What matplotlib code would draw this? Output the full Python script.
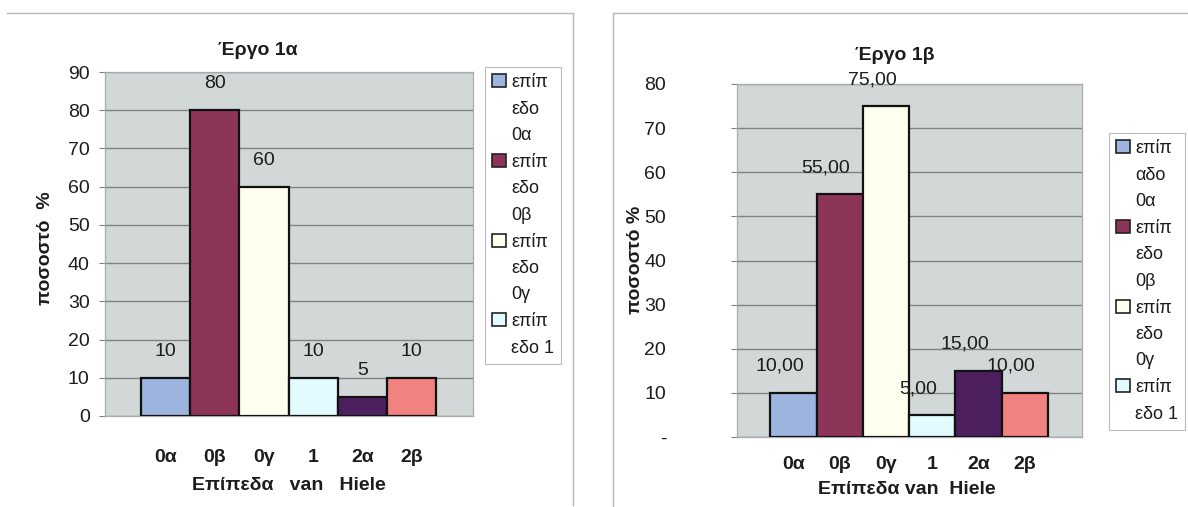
import matplotlib
matplotlib.use("Agg")
import matplotlib.pyplot as plt
from matplotlib.patches import Patch
from matplotlib.lines import Line2D
from matplotlib.ticker import FuncFormatter

plt.rcParams['font.family'] = ['Liberation Sans', 'DejaVu Sans']

# van Hiele levels and percentages for the two tasks
levels = ['0α', '0β', '0γ', '1', '2α', '2β']
task_1a = [10, 80, 60, 10, 5, 10]
task_1b = [10, 55, 75, 5, 15, 10]

legend_1a = ['επίπ\nεδο\n0α', 'επίπ\nεδο\n0β', 'επίπ\nεδο\n0γ', 'επίπ\nεδο 1']
legend_1b = ['επίπ\nαδο\n0α', 'επίπ\nεδο\n0β', 'επίπ\nεδο\n0γ', 'επίπ\nεδο 1']

BAR_COLORS = ['#9db4df', '#8d3559', '#fffff0', '#e2fbff', '#4d1f5f', '#f1827f']
PLOT_BG = '#d2d8d8'
GRID = '#7e8282'
FRAME = '#a8acac'
TEXT = '#1c1c1c'

W, H = 1188, 507
fig = plt.figure(figsize=(W / 100, H / 100), dpi=100)
fig.patch.set_facecolor('white')


def fx(px):
    return px / W


def fy(py):
    return 1 - py / H


def draw_panel(rect, values, ymax, label_fmt, label_dx, ytick_pad, xtick_pad, y_zero_dash):
    ax = fig.add_axes(rect)
    ax.set_facecolor(PLOT_BG)
    x = list(range(len(values)))
    bars = ax.bar(x, values, width=1.0, color=BAR_COLORS, edgecolor='#111111',
                  linewidth=1.6, zorder=3)
    ax.set_xlim(-1.22, 6.24)
    ax.set_ylim(0, ymax)
    ax.set_yticks(range(0, ymax + 1, 10))
    if y_zero_dash:
        ax.yaxis.set_major_formatter(FuncFormatter(lambda v, p: '-' if v == 0 else f'{v:.0f}'))
    ax.yaxis.grid(True, color=GRID, linewidth=1.0, zorder=1)
    ax.set_axisbelow(True)
    ax.tick_params(axis='y', length=4, width=0.8, color=GRID, pad=ytick_pad,
                   labelsize=14, labelcolor=TEXT)
    ax.set_xticks(x)
    ax.set_xticklabels(levels, fontweight='bold', fontsize=14)
    ax.tick_params(axis='x', length=0, pad=xtick_pad, labelcolor=TEXT)
    for s in ax.spines.values():
        s.set_color(FRAME)
        s.set_linewidth(0.9)
    for b, v in zip(bars, values):
        ax.annotate(label_fmt(v), (b.get_x() + b.get_width() / 2, v),
                    xytext=(label_dx, 19), textcoords='offset points',
                    ha='center', va='center', fontsize=14, color=TEXT,
                    annotation_clip=False, zorder=4)
    return ax


def add_legend(labels, x_px, y_px):
    handles = [Patch(facecolor=c, edgecolor='#222222', linewidth=1.2)
               for c in BAR_COLORS[:len(labels)]]
    leg = fig.legend(handles, labels, loc='upper left',
                     bbox_to_anchor=(fx(x_px), fy(y_px)), frameon=True,
                     fancybox=False, edgecolor=FRAME, fontsize=13,
                     handlelength=0.75, handleheight=0.75, handletextpad=0.3,
                     labelspacing=0.55, borderpad=0.4, borderaxespad=0)
    leg.get_frame().set_linewidth(0.8)
    for t in leg.get_texts():
        t.set_linespacing(1.72)
        t.set_color(TEXT)
    # keep each swatch level with the first line of its label
    for column in leg._legend_handle_box.get_children():
        for item in column.get_children():
            item.align = 'top'
    return leg


# Έργο 1α
draw_panel([fx(105), fy(416), fx(473) - fx(105), fy(72) - fy(416)],
           task_1a, 90, lambda v: f'{v}', 0, 7, 24, False)
fig.text(fx(258), fy(50), 'Έργο 1α', ha='center', va='center',
         fontsize=14, fontweight='bold', color=TEXT)
fig.text(fx(45), fy(248), 'ποσοστό  %', rotation=90, ha='center', va='center',
         fontsize=14, fontweight='bold', color=TEXT)
fig.text(fx(289), fy(485), 'Επίπεδα   van   Hiele', ha='center', va='center',
         fontsize=14, fontweight='bold', color=TEXT)
add_legend(legend_1a, 485, 67)

# Έργο 1β
draw_panel([fx(737), fy(437), fx(1082) - fx(737), fy(84) - fy(437)],
           task_1b, 80, lambda v: f'{v:.2f}'.replace('.', ','), -10, 47, 14, True)
fig.text(fx(895), fy(55), 'Έργο 1β', ha='center', va='center',
         fontsize=14, fontweight='bold', color=TEXT)
fig.text(fx(636), fy(260), 'ποσοστό %', rotation=90, ha='center', va='center',
         fontsize=14, fontweight='bold', color=TEXT)
fig.text(fx(907), fy(490), 'Επίπεδα van  Hiele', ha='center', va='center',
         fontsize=14, fontweight='bold', color=TEXT)
add_legend(legend_1b, 1109, 133)

# chart area outlines
for xs, ys in [([7, 573], [13, 13]), ([573, 573], [13, 505]),
               ([613, 1188], [13, 13]), ([613, 613], [13, 507])]:
    fig.add_artist(Line2D([fx(v) for v in xs], [fy(v) for v in ys],
                          color='#b4b8b8', linewidth=1.0))

fig.savefig('out.png', dpi=100, facecolor=fig.get_facecolor())
